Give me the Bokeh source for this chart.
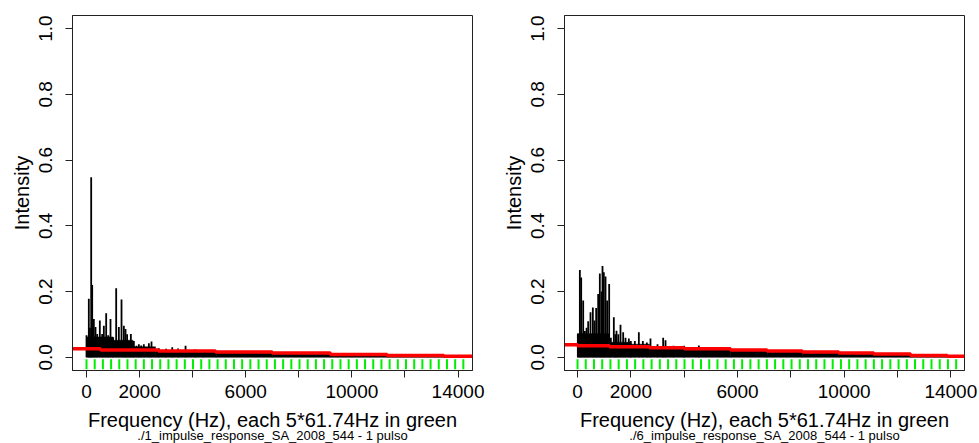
import numpy as np
from bokeh.plotting import figure
from bokeh.layouts import row
from bokeh.models import FixedTicker, Range1d, LinearAxis
from bokeh.embed import file_html
from bokeh.resources import INLINE

# ---------------- data ----------------
fundamental_hz = 61.74
harmonic_step = 5
n_green = 47

x_ticks = [0, 2000, 4000, 6000, 8000, 10000, 12000, 14000]
x_tick_labels = {0: "0", 2000: "2000", 4000: "", 6000: "6000", 8000: "",
                 10000: "10000", 12000: "", 14000: "14000"}
y_ticks = [0.0, 0.2, 0.4, 0.6, 0.8, 1.0]
y_tick_labels = {0.0: "0.0", 0.2: "0.2", 0.4: "0.4", 0.6: "0.6", 0.8: "0.8", 1.0: "1.0"}

x_title = "Frequency (Hz), each 5*61.74Hz in green"
y_title = "Intensity"

# panel 1 (./1)
p1_subtitle = "./1_impulse_response_SA_2008_544 - 1 pulso"
p1_peak_hz = [0, 87, 130, 176, 214, 276, 339, 402, 502, 590, 653, 741, 817, 904,
              1005, 1118, 1219, 1319, 1407, 1470, 1530, 1595, 1671, 1784, 1880,
              1972, 2060, 2160, 2350, 2449, 2727, 3000, 3230, 3450, 3732, 4100, 4400]
p1_peak_val = [0.067, 0.178, 0.090, 0.548, 0.220, 0.117, 0.092, 0.071, 0.112, 0.071,
               0.096, 0.134, 0.067, 0.117, 0.061, 0.210, 0.092, 0.176, 0.096, 0.086,
               0.070, 0.045, 0.071, 0.050, 0.035, 0.040, 0.036, 0.040, 0.043, 0.048,
               0.028, 0.026, 0.031, 0.027, 0.035, 0.024, 0.022]
p1_floor_edges = [0, 1000, 1750, 2600, 4900, 7000, 9200, 11350, 14100]
p1_floor_val = [0.062, 0.052, 0.032, 0.020, 0.015, 0.012, 0.008, 0.002]
p1_red_edges = [-530, 530, 2710, 4860, 7000, 9190, 11330, 13470, 14545]
p1_red_val = [0.026, 0.022, 0.019, 0.016, 0.013, 0.009, 0.006, 0.003]
p1_xrange = (-528, 14545)

# panel 2 (./6)
p2_subtitle = "./6_impulse_response_SA_2008_544 - 1 pulso"
p2_peak_hz = [12, 88, 138, 213, 275, 340, 400, 487, 575, 637, 700, 775, 837, 900,
              937, 987, 1050, 1112, 1187, 1250, 1362, 1420, 1462, 1530, 1612, 1712,
              1800, 1925, 2000, 2150, 2300, 2450, 2600, 2737, 3000, 3212, 3300, 3600,
              4000, 4550]
p2_peak_val = [0.072, 0.266, 0.243, 0.173, 0.080, 0.090, 0.110, 0.137, 0.152, 0.112,
               0.150, 0.193, 0.255, 0.200, 0.278, 0.259, 0.246, 0.173, 0.223, 0.060,
               0.122, 0.070, 0.081, 0.070, 0.099, 0.076, 0.060, 0.057, 0.050, 0.050,
               0.076, 0.050, 0.045, 0.057, 0.040, 0.060, 0.052, 0.035, 0.035, 0.036]
p2_floor_edges = [0, 1200, 2000, 2700, 4000, 5740, 7110, 8430, 9800, 11110, 12490, 14200]
p2_floor_val = [0.072, 0.046, 0.040, 0.030, 0.025, 0.021, 0.017, 0.014, 0.011, 0.008, 0.002]
p2_red_edges = [-490, 0, 1200, 2700, 4000, 5740, 7110, 8430, 9800, 11110, 12490, 13870, 14512]
p2_red_val = [0.038, 0.035, 0.032, 0.029, 0.026, 0.022, 0.019, 0.016, 0.013, 0.010, 0.006, 0.003]
p2_xrange = (-488, 14512)

FONT = "Liberation Sans"


def make_panel(border_left, border_right, xr, peak_hz, peak_val,
               floor_edges, floor_val, red_edges, red_val, subtitle):
    p = figure(frame_width=400, frame_height=355, output_backend="svg",
               toolbar_location=None,
               x_range=Range1d(*xr), y_range=Range1d(-0.04, 1.04),
               min_border_left=border_left, min_border_right=border_right,
               min_border_top=15, min_border_bottom=60)
    p.xgrid.visible = False
    p.ygrid.visible = False
    p.outline_line_color = "#222222"
    p.outline_line_width = 1
    p.background_fill_color = "white"
    p.border_fill_color = "white"

    # floor (dense spectrum mass)
    p.quad(left=floor_edges[:-1], right=floor_edges[1:], bottom=0, top=floor_val,
           fill_color="black", line_color="black", line_width=0.5)
    # spectral peaks
    p.segment(x0=peak_hz, y0=[0] * len(peak_hz), x1=peak_hz, y1=peak_val,
              line_color="black", line_width=1.8)
    # red trend line
    p.step(x=red_edges, y=list(red_val) + [red_val[-1]], mode="after",
           line_color="#ff0000", line_width=3.5)
    # green harmonic markers
    g = np.arange(n_green) * harmonic_step * fundamental_hz
    p.segment(x0=g, y0=-0.006, x1=g, y1=-0.036, line_color="#00ee00", line_width=2)

    # axes
    xa = p.xaxis[0]
    xa.ticker = FixedTicker(ticks=x_ticks)
    xa.major_label_overrides = x_tick_labels
    xa.minor_tick_line_color = None
    xa.major_tick_out = 7
    xa.major_tick_in = 0
    xa.major_label_standoff = 7
    xa.major_label_text_font = FONT
    xa.major_label_text_font_size = "19px"
    xa.major_label_text_color = "black"
    xa.axis_label = x_title
    xa.axis_label_text_font = FONT
    xa.axis_label_text_font_size = "20px"
    xa.axis_label_text_font_style = "normal"
    xa.axis_label_text_color = "black"
    xa.axis_label_standoff = 8
    xa.axis_line_color = "#222222"
    xa.major_tick_line_color = "#222222"

    ya = p.yaxis[0]
    ya.ticker = FixedTicker(ticks=y_ticks)
    ya.major_label_overrides = y_tick_labels
    ya.minor_tick_line_color = None
    ya.major_tick_out = 7
    ya.major_tick_in = 0
    ya.major_label_orientation = "vertical"
    ya.major_label_standoff = 13
    ya.major_label_text_font = FONT
    ya.major_label_text_font_size = "19px"
    ya.major_label_text_color = "black"
    ya.axis_label = y_title
    ya.axis_label_text_font = FONT
    ya.axis_label_text_font_size = "20px"
    ya.axis_label_text_font_style = "normal"
    ya.axis_label_text_color = "black"
    ya.axis_label_standoff = 4
    ya.axis_line_color = "#222222"
    ya.major_tick_line_color = "#222222"

    # subtitle as a label-only axis stacked below
    sub = LinearAxis(ticker=FixedTicker(ticks=[]), axis_line_color=None,
                     major_tick_out=0, major_tick_in=0, minor_tick_line_color=None,
                     major_label_text_font_size="0px", major_label_standoff=0,
                     axis_label=subtitle, axis_label_standoff=-6,
                     axis_label_text_font=FONT, axis_label_text_font_size="13px",
                     axis_label_text_font_style="normal", axis_label_text_color="black")
    p.add_layout(sub, "below")
    return p


p1 = make_panel(72, 18, p1_xrange, p1_peak_hz, p1_peak_val, p1_floor_edges,
                p1_floor_val, p1_red_edges, p1_red_val, p1_subtitle)
p2 = make_panel(74, 15, p2_xrange, p2_peak_hz, p2_peak_val, p2_floor_edges,
                p2_floor_val, p2_red_edges, p2_red_val, p2_subtitle)

layout = row(p1, p2)
open("out.html", "w").write(file_html(layout, INLINE))
